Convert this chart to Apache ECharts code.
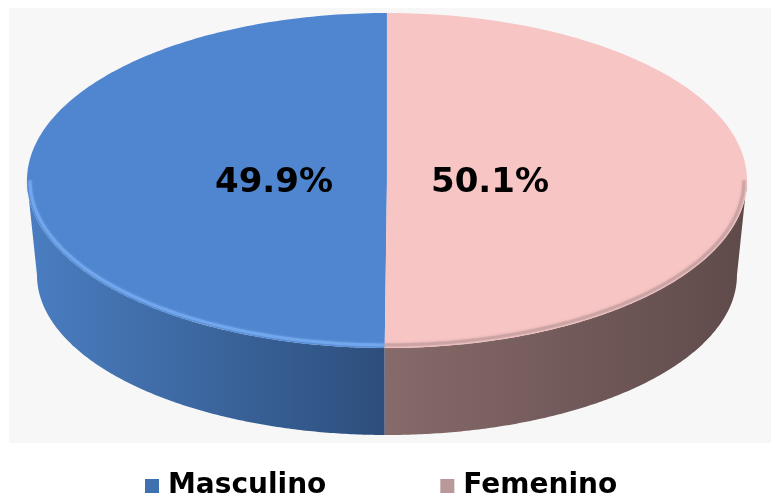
<!DOCTYPE html>
<html><head><meta charset="utf-8">
<script src="https://cdn.jsdelivr.net/npm/echarts@6/dist/echarts.min.js"></script>
<style>html,body{margin:0;padding:0;background:#fff}#c{width:771px;height:500px}</style>
</head><body><div id="c"></div>
<script>
// ---- data ----
const categories = ['Masculino', 'Femenino'];
const values = [49.9, 50.1];
const valueLabels = ['49.9%', '50.1%'];
// slices are laid out clockwise from 12 o'clock in this order (indexes into categories)
const drawOrder = [1, 0];

// ---- styles ----
const topColors = ['#4f86cf', '#f8c5c5'];
const wallStops = [['#4a7ec1', '#2d4e7c'], ['#876a6a', '#5f4a4a']];
const rimColors = ['#74a8ee', '#c9a2a2'];
const legendColors = ['#3f70b0', '#b89898'];

const chart = echarts.init(document.getElementById('c'), null, {renderer: 'canvas'});

function makeRender(idx) {
  return function (params, api) {
    const W = api.getWidth();
    const cx = W * 0.5019, cy = 180.5, rx = 360, ry = 167.5;  // top face
    const bcy = 275, brx = 350, bry = 160;                       // bottom edge
    const total = values.reduce((a, b) => a + b, 0);
    let start = 0;
    for (const k of drawOrder) { if (k === idx) break; start += values[k] / total * 2 * Math.PI; }
    const end = start + api.value(0) / total * 2 * Math.PI;
    const N = 180;
    const topPt = t => [cx + rx * Math.sin(t), cy - ry * Math.cos(t)];
    const botPt = t => [cx + brx * Math.sin(t), bcy - bry * Math.cos(t)];
    const children = [];
    // wall (front visible part)
    const a = Math.max(start, Math.PI / 2), b = Math.min(end, 3 * Math.PI / 2);
    if (a < b) {
      const pts = [];
      for (let i = 0; i <= N; i++) pts.push(topPt(a + (b - a) * i / N));
      for (let i = N; i >= 0; i--) pts.push(botPt(a + (b - a) * i / N));
      const xs = pts.map(p => p[0]);
      const x0 = Math.min(...xs), x1 = Math.max(...xs);
      children.push({
        type: 'polygon', shape: {points: pts}, z2: 1,
        style: {
          fill: new echarts.graphic.LinearGradient(x0, 0, x1, 0, [
            {offset: 0, color: wallStops[idx][0]}, {offset: 1, color: wallStops[idx][1]}
          ], true)
        }
      });
    }
    // top face
    const tp = [[cx, cy]];
    for (let i = 0; i <= N; i++) tp.push(topPt(start + (end - start) * i / N));
    children.push({type: 'polygon', shape: {points: tp}, z2: 2, style: {fill: topColors[idx]}});
    // rim shading on front edge
    if (a < b) {
      const rp = [];
      for (let i = 0; i <= N; i++) {
        const t = a + (b - a) * i / N;
        rp.push([cx + (rx - 3) * Math.sin(t), cy - (ry - 3) * Math.cos(t)]);
      }
      children.push({type: 'polyline', shape: {points: rp}, z2: 3,
        style: {stroke: rimColors[idx], lineWidth: 3, fill: null, opacity: 0.85, shadowBlur: 3, shadowColor: rimColors[idx]}});
    }
    // value label
    const mid = (start + end) / 2;
    children.push({
      type: 'text', z2: 4,
      style: {
        text: valueLabels[idx],
        x: cx + rx * 0.3 * Math.sin(mid) - 5,
        y: cy - ry * 0.3 * Math.cos(mid) + 3,
        align: 'center', verticalAlign: 'middle',
        font: 'bold 34px "DejaVu Sans"', fill: '#000'
      }
    });
    return {type: 'group', children};
  };
}

chart.setOption({
  animation: false,
  backgroundColor: '#ffffff',
  graphic: [{type: 'rect', z: 0, shape: {x: 9, y: 8, width: 762, height: 435}, style: {fill: '#f7f7f7'}}],
  legend: {
    data: categories.map((n, i) => ({name: n, itemStyle: {color: legendColors[i]}})),
    left: 140, top: 467, itemWidth: 14, itemHeight: 14, icon: 'rect', itemGap: 114,
    textStyle: {fontFamily: 'DejaVu Sans', fontWeight: 'bold', fontSize: 28, color: '#000', padding: [0, 0, 0, 4]}
  },
  series: categories.map((n, i) => ({
    type: 'custom', name: n, coordinateSystem: 'none', z: 2,
    itemStyle: {color: legendColors[i]},
    renderItem: makeRender(i),
    data: [[values[i]]]
  }))
});
</script></body></html>
